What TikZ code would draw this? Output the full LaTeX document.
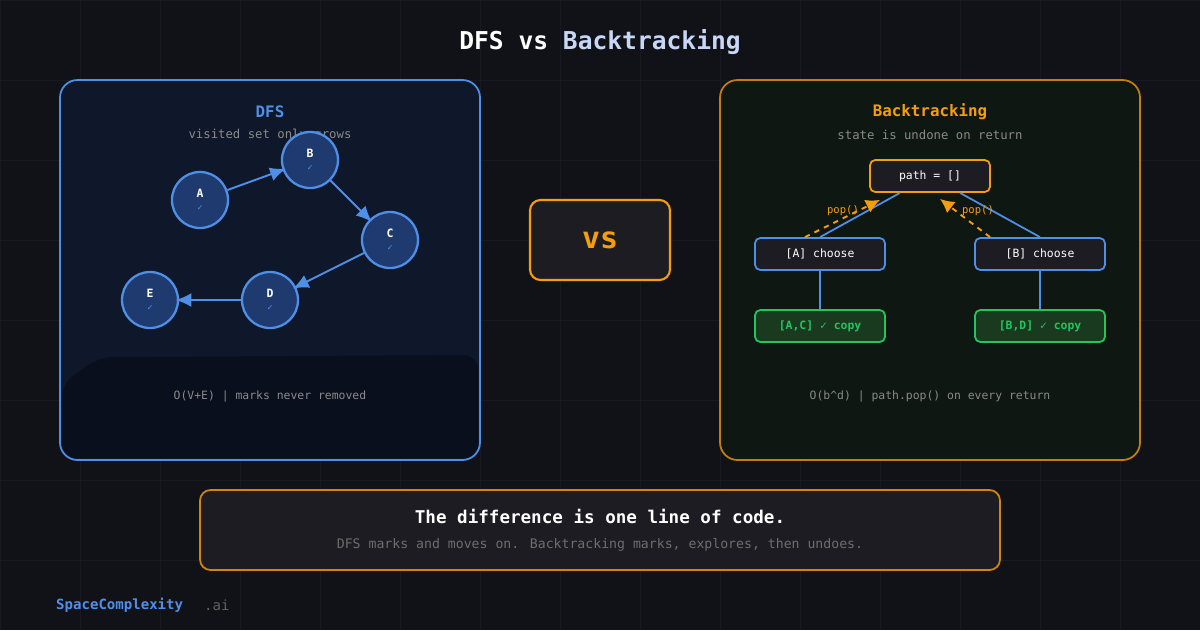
\documentclass[tikz,border=0pt]{standalone}
\usepackage{fontspec}
\setmainfont{DejaVu Sans Mono}
\usetikzlibrary{arrows.meta}
\definecolor{bgc}{HTML}{111218}
\definecolor{gridc}{HTML}{181A22}
\definecolor{dfsbg}{HTML}{0F172A}
\definecolor{dfsblue}{HTML}{4F8FE8}
\definecolor{nodefill}{HTML}{1E3A6E}
\definecolor{btbg}{HTML}{0F1712}
\definecolor{orng}{HTML}{F59E0B}
\definecolor{grn}{HTML}{22C55E}
\definecolor{grnfill}{HTML}{1A3A20}
\definecolor{boxbg}{HTML}{1C1C22}
\definecolor{gtxt}{HTML}{8A8A8A}
\tikzset{
	vert/.style={draw=dfsblue, fill=nodefill, circle, line width=1.3pt, minimum size=56*0.02cm, inner sep=0pt},
	seta/.style={-{Latex[length=9pt,width=8pt]}, draw=dfsblue, line width=1.1pt, shorten >=-2pt},
	caixa/.style={draw=dfsblue, fill=boxbg, rounded corners=3pt, line width=1pt, minimum width=130*0.02cm, minimum height=32*0.02cm, text=white, font=\fontsize{6.5}{7}\selectfont},
	folha/.style={caixa, draw=grn, fill=grnfill, text=grn, font=\bfseries\fontsize{6.5}{7}\selectfont},
	volta/.style={-{Latex[length=8pt,width=8pt]}, draw=orng, dashed, line width=1.1pt},
	rotulo/.style={text=gtxt, font=\fontsize{7}{8}\selectfont}
}
\begin{document}
\begin{tikzpicture}[x=0.02cm, y=-0.02cm]
	
	% fundo
	\fill[bgc] (0,0) rectangle (1200,630);
	\useasboundingbox (0,0) rectangle (1200,630);
	\foreach \i in {0,80,...,1200} \draw[gridc, line width=0.4pt] (\i,0) -- (\i,630);
	\foreach \j in {0,80,...,630} \draw[gridc, line width=0.4pt] (0,\j) -- (1200,\j);
	
	\node[text=white, font=\bfseries\fontsize{14}{16}\selectfont] (titulo) at (600,42) {DFS vs \textcolor[HTML]{C7D7F5}{Backtracking}};
	
	% painel DFS
	\draw[dfsblue, fill=dfsbg, rounded corners=10pt, line width=1pt] (60,80) rectangle (480,460);
	\fill[black!60!dfsbg, opacity=0.5, rounded corners=8pt] (62,383) -- (100,357) -- (478,355) -- (478,458) -- (62,458) -- cycle;
	\node[text=dfsblue, font=\bfseries\fontsize{9}{10}\selectfont] (tdfs) at (270,112) {DFS};
	\node[rotulo] (sdfs) at (270,135) {visited set only grows};
	
	\node[vert] (A) at (200,200) {};
	\node[vert] (B) at (310,160) {};
	\node[vert] (C) at (390,240) {};
	\node[vert] (D) at (270,300) {};
	\node[vert] (E) at (150,300) {};
	\foreach \v in {A,B,C,D,E} {
		\node[text=white, font=\bfseries\fontsize{6.5}{7}\selectfont] at ([yshift=7*0.02cm]\v) {\v};
		\node[text=dfsblue, font=\fontsize{5}{5}\selectfont] at ([yshift=-8*0.02cm]\v) {✓};
	}
	\draw[seta] (A) -- (B);
	\draw[seta] (B) -- (C);
	\draw[seta] (C) -- (D);
	\draw[seta] (D) -- (E);
	\node[rotulo, font=\fontsize{6.5}{7}\selectfont] (cdfs) at (270,396) {O(V+E) | marks never removed};
	
	% vs
	\node[draw=orng, fill=boxbg, rounded corners=6pt, line width=1.2pt, minimum width=140*0.02cm, minimum height=80*0.02cm, text=orng, font=\bfseries\fontsize{17}{18}\selectfont] (vs) at (600,240) {vs};
	
	% painel Backtracking
	\draw[orng!80!black, fill=btbg, rounded corners=10pt, line width=1pt] (720,80) rectangle (1140,460);
	\node[text=orng, font=\bfseries\fontsize{9}{10}\selectfont] (tbt) at (930,112) {Backtracking};
	\node[rotulo] (sbt) at (930,135) {state is undone on return};
	
	\node[caixa, draw=orng, minimum width=120*0.02cm] (path) at (930,176) {path = []};
	\node[caixa] (ca) at (820,254) {[A] choose};
	\node[caixa] (cb) at (1040,254) {[B] choose};
	\node[folha] (fa) at (820,326) {[A,C] ✓ copy};
	\node[folha] (fb) at (1040,326) {[B,D] ✓ copy};
	
	\draw[dfsblue, line width=1pt] ([xshift=-30*0.02cm]path.south) -- (ca.north);
	\draw[dfsblue, line width=1pt] ([xshift=30*0.02cm]path.south) -- (cb.north);
	\draw[dfsblue, line width=1pt] (ca) -- (fa);
	\draw[dfsblue, line width=1pt] (cb) -- (fb);
	\draw[volta] ([xshift=-15*0.02cm]ca.north) -- ([xshift=-50*0.02cm, yshift=-7*0.02cm]path.south);
	\draw[volta] ([xshift=-50*0.02cm]cb.north) -- ([xshift=10*0.02cm, yshift=-6*0.02cm]path.south);
	\node[text=orng, font=\fontsize{6}{6}\selectfont] (popa) at (843,211) {pop()};
	\node[text=orng, font=\fontsize{6}{6}\selectfont] (popb) at (978,211) {pop()};
	\node[rotulo, font=\fontsize{6.5}{7}\selectfont] (cbt) at (930,396) {O(b\^{}d) | path.pop() on every return};
	
	% rodape
	\draw[orng!85!black, fill=boxbg, rounded corners=6pt, line width=1pt] (200,490) rectangle (1000,570);
	\node[text=white, font=\bfseries\fontsize{10}{12}\selectfont] (frase) at (600,516) {The difference is one line of code.};
	\node[text=gtxt!80!black, font=\fontsize{7.5}{9}\selectfont] (sub) at (600,545) {DFS marks and moves on. Backtracking marks, explores, then undoes.};
	\node[anchor=west, text=dfsblue, font=\bfseries\fontsize{8}{9}\selectfont] (marca) at (50,605) {SpaceComplexity};
	\node[anchor=west, text=gtxt!70!black, font=\fontsize{8}{9}\selectfont] (ai) at (198,605) {.ai};
	
\end{tikzpicture}
\end{document}
